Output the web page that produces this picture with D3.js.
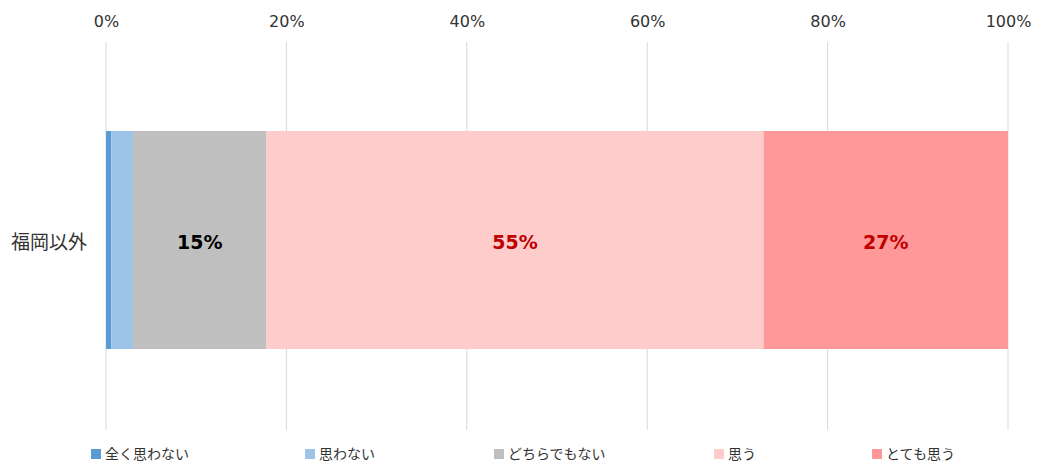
<!DOCTYPE html>
<html>
<head>
<meta charset="utf-8">
<script src="https://cdn.jsdelivr.net/npm/d3@7"></script>
<style>
  body { margin: 0; background: #fff; }
  svg text { font-family: "Noto Sans CJK JP", "Noto Sans", sans-serif; }
</style>
</head>
<body>
<div id="chart"></div>
<script>
// データ
var categories = ['福岡以外']
var seriesNames = ['全く思わない', '思わない', 'どちらでもない', '思う', 'とても思う']
var seriesValues = [0.6, 2.4, 14.8, 55.1, 27.1]
var seriesLabels = ['', '', '15%', '55%', '27%']
var seriesColors = ['#5B9BD5', '#9DC3E6', '#BFBFBF', '#FFCCCC', '#FF9999']
var labelColors = ['#000', '#000', '#000', '#C00000', '#C00000']
var tickValues = [0, 20, 40, 60, 80, 100]

var width = 1040, height = 466

var svg = d3.select('#chart').append('svg')
  .attr('width', width)
  .attr('height', height)

var x = d3.scaleLinear().domain([0, 100]).range([106, 1008])
var y = d3.scaleBand().domain(categories).range([22, 458]).paddingInner(0).paddingOuter(0.5)

// グリッド線
svg.selectAll('.grid')
  .data(tickValues)
  .enter()
  .append('line')
  .attr('x1', function(d) { return x(d) })
  .attr('x2', function(d) { return x(d) })
  .attr('y1', 42)
  .attr('y2', 430)
  .attr('stroke', '#D9D9D9')
  .attr('stroke-width', 1)

// 上の軸
var axis = d3.axisTop(x)
  .tickValues(tickValues)
  .tickFormat(function(d) { return d + '%' })
  .tickSize(0)
  .tickPadding(0)

var ax = svg.append('g')
  .attr('transform', 'translate(0,27)')
  .call(axis)
ax.select('.domain').remove()
ax.selectAll('text')
  .attr('font-size', 16)
  .attr('fill', '#333')
  .style('font-family', '"DejaVu Sans", sans-serif')

// 積み上げデータ
var stacked = []
var cum = 0
seriesValues.forEach(function(v, i) {
  stacked.push({ name: seriesNames[i], x0: cum, x1: cum + v, label: seriesLabels[i], color: seriesColors[i], lc: labelColors[i] })
  cum += v
})

var bar = svg.append('g')
bar.selectAll('rect')
  .data(stacked)
  .enter()
  .append('rect')
  .attr('x', function(d) { return x(d.x0) })
  .attr('width', function(d) { return x(d.x1) - x(d.x0) })
  .attr('y', y(categories[0]))
  .attr('height', y.bandwidth())
  .attr('fill', function(d) { return d.color })

bar.selectAll('.lbl')
  .data(stacked.filter(function(d) { return d.label }))
  .enter()
  .append('text')
  .attr('class', 'lbl')
  .attr('x', function(d) { return (x(d.x0) + x(d.x1)) / 2 })
  .attr('y', y(categories[0]) + y.bandwidth() / 2 + 2)
  .attr('dy', '0.35em')
  .attr('text-anchor', 'middle')
  .attr('font-size', 19)
  .attr('font-weight', 'bold')
  .attr('fill', function(d) { return d.lc })
  .style('font-family', '"DejaVu Sans", sans-serif')
  .text(function(d) { return d.label })

// カテゴリラベル
svg.append('text')
  .attr('x', 87)
  .attr('y', y(categories[0]) + y.bandwidth() / 2 + 2)
  .attr('dy', '0.35em')
  .attr('text-anchor', 'end')
  .attr('font-size', 19)
  .attr('fill', '#333')
  .text(categories[0])

// 凡例
var legendX = [91, 305, 494, 714, 872]
var lg = svg.selectAll('.legend')
  .data(seriesNames)
  .enter()
  .append('g')
  .attr('transform', function(d, i) { return 'translate(' + legendX[i] + ',449)' })
lg.append('rect')
  .attr('width', 10)
  .attr('height', 10)
  .attr('fill', function(d, i) { return seriesColors[i] })
lg.append('text')
  .attr('x', 14)
  .attr('y', 5)
  .attr('dy', '0.35em')
  .attr('font-size', 14)
  .attr('fill', '#333')
  .text(function(d) { return d })
</script>
</body>
</html>
